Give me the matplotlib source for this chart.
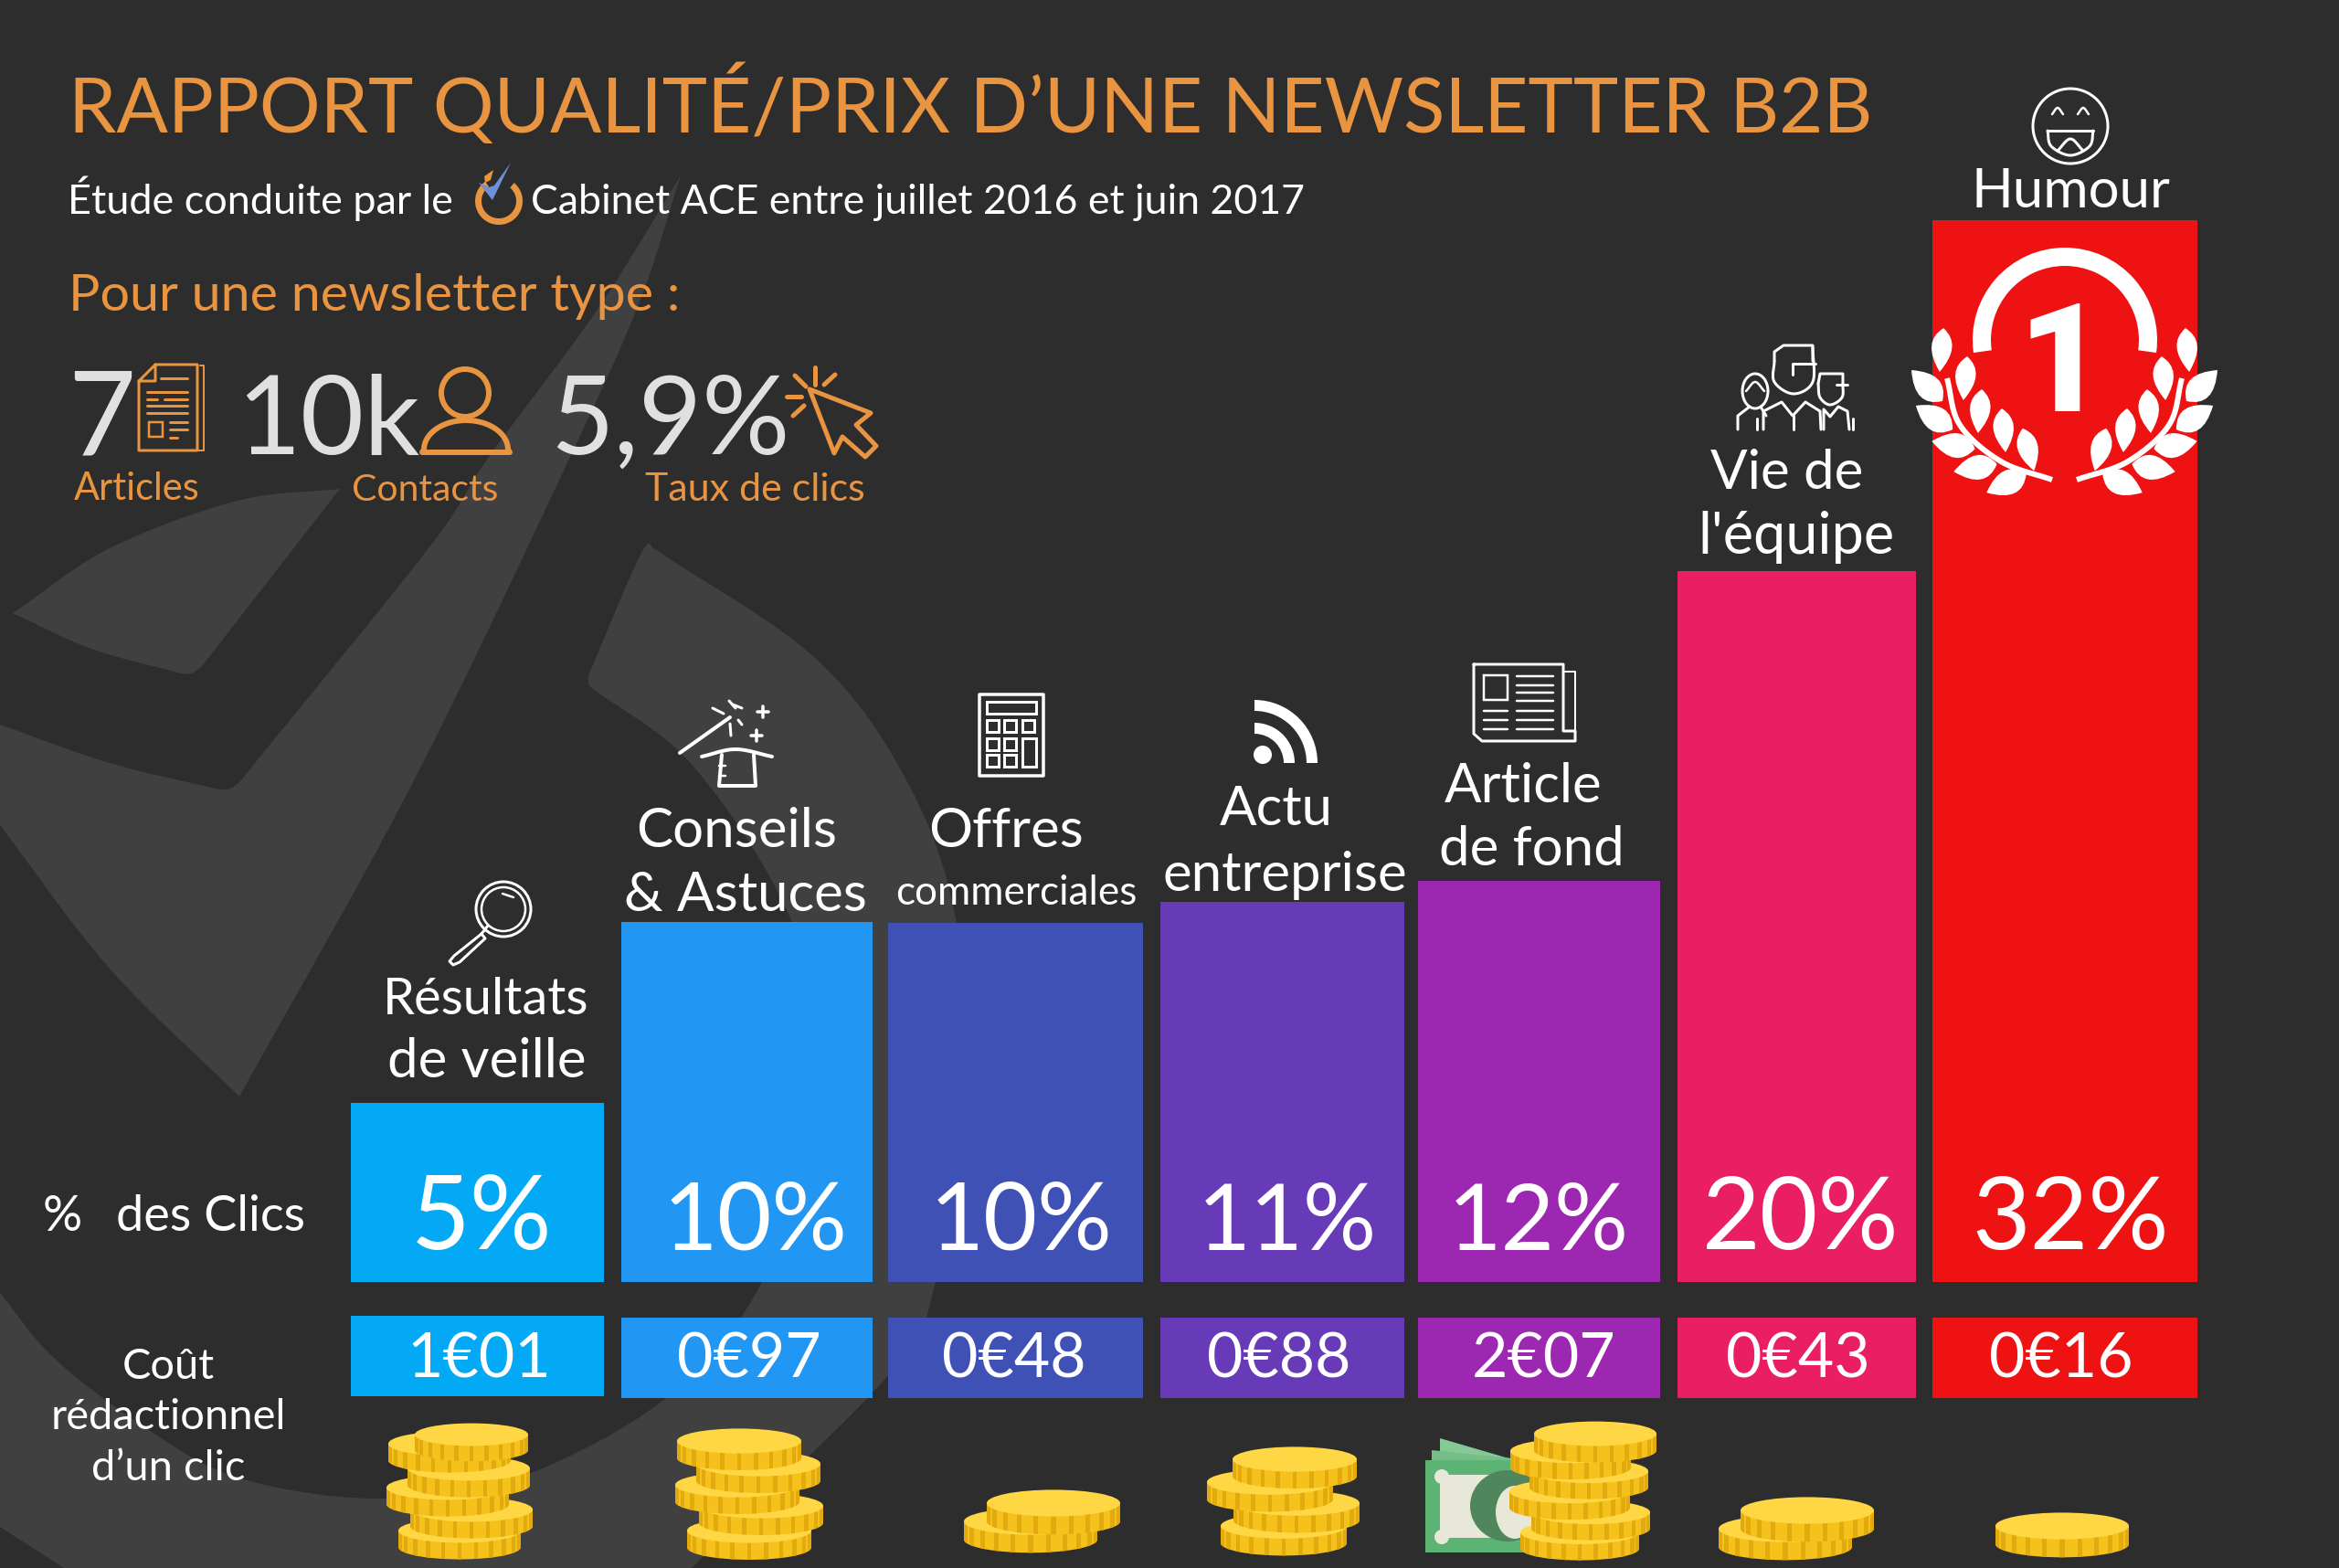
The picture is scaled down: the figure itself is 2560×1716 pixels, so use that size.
"""Rapport qualité/prix d'une newsletter B2B, infographic redrawn with matplotlib."""

import matplotlib
matplotlib.use("Agg")
import matplotlib.pyplot as plt
import numpy as np
from matplotlib.patches import Circle, Ellipse, PathPatch, Polygon, Rectangle, Wedge
from matplotlib.path import Path

# data
categories = [
    "Résultats\nde veille", "Conseils\n& Astuces", "Offres\ncommerciales", "Actu\nentreprise",
    "Article\nde fond", "Vie de\nl'équipe", "Humour",
]
click_labels = ["5%", "10%", "10%", "11%", "12%", "20%", "32%"]
bar_levels = [4.99, 10.03, 10.0, 10.59, 11.17, 19.8, 29.57]  # drawn heights differ a bit from labels
cost_labels = ["1€01", "0€97", "0€48", "0€88", "2€07", "0€43", "0€16"]
coin_counts = [6, 5, 2, 4, 6, 2, 1]
bar_colors = ["#03a9f4", "#2196f3", "#3f51b5", "#673ab7", "#9c27b0", "#e91e63", "#ee1212"]

# layout, in pixels of the 2560x1716 canvas
W, H = 2560, 1716
BAR_BOTTOM = 1403
PX_PER_LEVEL = 39.3
BAR_LEFT = [384, 680, 972, 1270, 1552, 1836, 2115]
BAR_RIGHT = [661, 955, 1251, 1537, 1817, 2097, 2405]
COST_TOP = [1440, 1442, 1442, 1442, 1442, 1442, 1442]
COST_BOTTOM = [1528, 1530, 1530, 1530, 1530, 1530, 1530]
PCT_X = [527, 827, 1118, 1409, 1684, 1971, 2266]
PCT_SIZE = [112, 103, 102, 100, 101, 110, 110]
COST_X = [524, 820, 1110, 1400, 1690, 1968, 2256]
COIN_STACKS = [
    [(503, 1675, 67), (516, 1652, 67), (490, 1628, 67), (513, 1607, 67), (492, 1580, 67), (516, 1570, 62)],
    [(820, 1675, 68), (833, 1648, 68), (807, 1625, 68), (830, 1602, 68), (809, 1577, 68)],
    [(1128, 1665, 73), (1153, 1645, 73)],
    [(1405, 1670, 69), (1419, 1645, 69), (1390, 1622, 69), (1417, 1597, 68)],
    [(1729, 1677, 65), (1741, 1655, 65), (1718, 1632, 66), (1739, 1610, 65), (1719, 1588, 66), (1746, 1569, 67)],
    [(1954, 1673, 73), (1978, 1653, 73)],
    [(2257, 1670, 73)],
]
CATEGORY_TEXT = [
    [(532, 1110, "Résultats", 56), (533, 1179, "de veille", 60)],
    [(806, 927, "Conseils", 60), (816, 997, "& Astuces", 60)],
    [(1101, 927, "Offres", 60), (1112, 990, "commerciales", 44)],
    [(1397, 903, "Actu", 60), (1406, 975, "entreprise", 60)],
    [(1667, 878, "Article", 60), (1676, 947, "de fond", 60)],
    [(1956, 535, "Vie de", 60), (1966, 606, "l'équipe", 63)],
    [(2266, 227, "Humour", 60)],
]

BG = "#2d2d2d"
WATERMARK = "#404040"
ORANGE = "#e89440"
LIGHT = "#e0e0e0"
WHITE = "#ffffff"
FONT = ["Lato", "DejaVu Sans"]
PT = 72 / 200  # one canvas pixel, in points


def catmull(points, steps=16):
    """Dense smooth run through the given points."""
    p = np.array(points, float)
    p = np.vstack([2 * p[0] - p[1], p, 2 * p[-1] - p[-2]])
    out = []
    for i in range(1, len(p) - 2):
        t = np.linspace(0, 1, steps, endpoint=False)[:, None]
        out.append(0.5 * (2 * p[i] + (p[i + 1] - p[i - 1]) * t
                          + (2 * p[i - 1] - 5 * p[i] + 4 * p[i + 1] - p[i + 2]) * t ** 2
                          + (3 * p[i] - p[i - 1] - 3 * p[i + 1] + p[i + 2]) * t ** 3))
    out.append(p[-2:-1])
    return np.vstack(out)


def label(ax, x, y, text, size, color=WHITE, ha="center", **kw):
    ax.text(x, y, text, fontsize=size * PT, color=color, ha=ha, va="baseline", family=FONT, **kw)


def line(ax, pts, lw=3, color=WHITE, **kw):
    xs, ys = zip(*pts)
    ax.plot(xs, ys, color=color, lw=lw * PT, solid_capstyle=kw.pop("cap", "round"), **kw)


def box(ax, x0, y0, x1, y1, lw=3, color=WHITE):
    ax.add_patch(Rectangle((x0, y0), x1 - x0, y1 - y0, fill=False, ec=color, lw=lw * PT))


def draw_watermark(ax):
    ax.add_patch(Polygon(np.vstack([
        catmull([(14, 671), (120, 600), (260, 548), (372, 535)]),
        [(221, 729)],
        catmull([(221, 729), (210, 737), (198, 737)]),
        catmull([(198, 737), (100, 710), (14, 671)]),
    ]), fc=WATERMARK, ec="none"))
    ax.add_patch(Polygon(np.vstack([
        catmull([(0, 793), (120, 835), (240, 864)]),
        catmull([(240, 864), (252, 863), (262, 856)]),
        catmull([(262, 856), (469, 600), (535, 500), (653, 340), (745, 192)]),
        catmull([(745, 192), (700, 330), (624, 500), (450, 860), (262, 1200)]),
        catmull([(262, 1200), (120, 1060), (0, 903)]),
    ]), fc=WATERMARK, ec="none"))
    ax.add_patch(Polygon(np.vstack([
        catmull([(644, 740), (650, 725), (702, 605), (717, 601)]),
        catmull([(717, 601), (892, 720), (990, 850), (1045, 1000), (1060, 1200), (1024, 1403), (974, 1503), (757, 1716)]),
        [(70, 1716), (0, 1671)],
        catmull([(0, 1415), (60, 1487), (160, 1563), (260, 1617), (410, 1640), (560, 1620), (729, 1530), (834, 1403),
                 (907, 1198), (868, 1012), (760, 840), (644, 750)]),
    ]), fc=WATERMARK, ec="none"))


def draw_coin(ax, cx, cy, a):
    b, side = 0.2 * a, 0.27 * a
    t = np.linspace(0, np.pi, 50)
    lower = np.column_stack([cx + a * np.cos(t), cy + side + b * np.sin(t)])
    outline = np.vstack([[(cx + a, cy)], lower, [(cx - a, cy)]])
    body = Polygon(outline, fc="#f5c21b", ec="none")
    ax.add_patch(body)
    for phase in np.linspace(-1.35, 1.35, 11):
        x = cx + a * np.sin(phase)
        stripe = Rectangle((x - a * 0.035, cy), a * 0.07, side + b + 2, fc="#e3aa10", ec="none")
        ax.add_patch(stripe)
        stripe.set_clip_path(body)
    ax.add_patch(Ellipse((cx, cy), 2 * a, 2 * b, fc="#ffd644", ec="none"))


def draw_banknote(ax):
    ax.add_patch(Polygon([(1576, 1574), (1665, 1600), (1576, 1600)], fc="#85c996", ec="none"))
    ax.add_patch(Polygon([(1567, 1587), (1665, 1597), (1665, 1605), (1567, 1605)], fc="#76bd8a", ec="none"))
    ax.add_patch(Rectangle((1560, 1598), 125, 101, fc="#5bb374", ec="none"))
    ax.add_patch(Rectangle((1576, 1614), 100, 69, fc="#e8e8d8", ec="none"))
    ax.add_patch(Ellipse((1578, 1616), 16, 16, fc="#e8e8d8", ec="none"))
    ax.add_patch(Ellipse((1578, 1682), 16, 16, fc="#e8e8d8", ec="none"))
    ax.add_patch(Ellipse((1650, 1648), 82, 78, fc="#50865c", ec="none"))
    ax.add_patch(Ellipse((1658, 1655), 42, 58, fc="#e8e8d8", ec="none"))


def draw_doc_icon(ax):
    line(ax, [(170, 399), (216, 399), (216, 493), (152, 493), (152, 417), (170, 399), (170, 417), (152, 417)], 3, ORANGE)
    line(ax, [(219, 400), (223, 400), (223, 493), (217, 493)], 2, ORANGE)
    line(ax, [(176, 414), (205, 414)], 3, ORANGE)
    for y in (429, 444, 452):
        line(ax, [(161, y), (205, y)], 3, ORANGE)
    line(ax, [(161, 437), (172, 437)], 3, ORANGE)
    line(ax, [(180, 437), (205, 437)], 3, ORANGE)
    box(ax, 163, 462, 178, 478, 2.5, ORANGE)
    for y in (462, 470):
        line(ax, [(186, y), (205, y)], 3, ORANGE)
    line(ax, [(186, 479), (194, 479)], 3, ORANGE)


def draw_person_icon(ax):
    ax.add_patch(Ellipse((509, 430), 52, 52, fill=False, ec=ORANGE, lw=6 * PT))
    t = np.linspace(np.pi, 2 * np.pi, 30)
    dome = np.column_stack([510 + 46 * np.cos(t), 492 + 32 * np.sin(t)])
    ax.add_patch(Polygon(np.vstack([dome, [(558, 495), (462, 495)]]), fill=False, ec=ORANGE, lw=6 * PT, joinstyle="round"))


def draw_cursor_icon(ax):
    ax.add_patch(Polygon([(886, 426), (953, 452), (937, 465), (959, 488), (947, 500), (922, 478), (913, 496)],
                         fill=False, ec=ORANGE, lw=5 * PT, joinstyle="round"))
    for seg in ([(861, 434), (877, 434)], [(870, 411), (882, 423)], [(892, 402), (892, 421)],
                [(914, 410), (902, 421)], [(880, 444), (868, 455)]):
        line(ax, seg, 5, ORANGE)


def draw_logo(ax):
    ax.add_patch(Wedge((546, 220), 26, -50, 235, width=7, fc=ORANGE, ec="none"))
    ax.add_patch(Polygon([(559, 178), (539, 219), (524, 200), (535, 205), (541, 203)], fc="#6f8fd8", ec="none"))
    ax.add_patch(Polygon([(530, 193), (540, 186), (537, 197), (531, 200)], fc=ORANGE, ec="none"))


def draw_magnifier(ax):
    ax.add_patch(Circle((551, 995), 30, fill=False, ec=WHITE, lw=3 * PT))
    ax.add_patch(Circle((551, 995), 24, fill=False, ec=WHITE, lw=2.5 * PT))
    line(ax, [(534, 1013), (527, 1022)], 3)
    line(ax, [(527, 1022), (497, 1046), (492, 1052), (496, 1056), (503, 1053), (531, 1027), (527, 1022)], 3)
    line(ax, [(550, 978), (562, 982)], 2.5)


def draw_wand_hat(ax):
    line(ax, [(744, 824), (799, 785)], 4)
    for seg in ([(780, 775), (792, 781)], [(802, 771), (812, 775)], [(798, 767), (805, 775)],
                [(808, 788), (812, 793)], [(799, 792), (800, 805)]):
        line(ax, seg, 3)
    for cx, cy in ((835, 779), (828, 805)):
        line(ax, [(cx - 6, cy), (cx + 6, cy)], 3.5)
        line(ax, [(cx, cy - 6), (cx, cy + 6)], 3.5)
    line(ax, catmull([(768, 828), (805, 820), (845, 828)]), 4)
    line(ax, [(790, 826), (787, 860), (827, 860), (825, 826)], 4)
    line(ax, [(787, 838), (794, 838)], 2.5)
    line(ax, [(787, 849), (794, 849)], 2.5)


def draw_calculator(ax):
    ax.add_patch(Rectangle((1072, 760), 70, 89, fill=False, ec=WHITE, lw=3.5 * PT, joinstyle="round"))
    box(ax, 1080, 768, 1134, 781, 3)
    for col, x in enumerate((1080, 1099, 1119)):
        for y in (788, 808, 826):
            if col == 2 and y > 790:
                continue
            box(ax, x, y, x + 13, y + 13, 3)
    box(ax, 1119, 808, 1134, 839, 3)


def draw_rss(ax):
    ax.add_patch(Circle((1382, 826), 10, fc=WHITE, ec="none"))
    ax.add_patch(Wedge((1373, 835), 69, 270, 360, width=12, fc=WHITE, ec="none"))
    ax.add_patch(Wedge((1373, 835), 44, 270, 360, width=12, fc=WHITE, ec="none"))


def draw_newspaper(ax):
    line(ax, [(1613, 727), (1711, 727), (1711, 800), (1724, 800), (1724, 811), (1622, 811), (1613, 803), (1613, 727)], 3)
    line(ax, [(1711, 727), (1711, 735), (1724, 735), (1724, 800)], 2)
    box(ax, 1624, 739, 1650, 766, 2.5)
    for y in (740, 750, 758, 767):
        line(ax, [(1660, y), (1700, y)], 2.5)
    for y in (778, 788, 798):
        line(ax, [(1624, y), (1650, y)], 2.5)
        line(ax, [(1660, y), (1700, y)], 2.5)


def draw_team(ax):
    # middle figure
    line(ax, catmull([(1942, 395), (1942, 418), (1963, 431), (1984, 418), (1984, 380)]), 3)
    line(ax, [(1942, 395), (1942, 385), (1952, 378), (1984, 378), (1984, 395)], 3)
    line(ax, [(1962, 410), (1962, 398), (1987, 398)], 3)
    line(ax, [(1930, 470), (1930, 450), (1950, 440), (1962, 455), (1976, 440), (1992, 450), (1993, 470)], 3)
    line(ax, [(1963, 455), (1963, 470)], 3)
    # left figure
    ax.add_patch(Ellipse((1921, 428), 28, 38, fill=False, ec=WHITE, lw=3 * PT))
    line(ax, catmull([(1911, 428), (1921, 418), (1931, 428)]), 2.5)
    line(ax, [(1902, 470), (1902, 455), (1915, 445)], 3)
    line(ax, [(1927, 445), (1933, 455)], 3)
    line(ax, [(1923, 458), (1923, 470)], 3)
    # right figure
    line(ax, catmull([(1990, 420), (1992, 435), (2003, 443), (2016, 435), (2017, 420)]), 3)
    line(ax, [(1990, 420), (1992, 409), (2017, 409), (2017, 420)], 3)
    line(ax, [(2010, 421), (2022, 421)], 3)
    line(ax, [(1996, 470), (1996, 448), (2003, 456), (2012, 445), (2022, 450), (2024, 470)], 3)
    line(ax, [(2028, 458), (2028, 470)], 3)


def draw_smiley(ax):
    ax.add_patch(Circle((2266, 138), 41, fill=False, ec=WHITE, lw=3 * PT))
    line(ax, catmull([(2246, 125), (2252, 118), (2258, 125)]), 2.5)
    line(ax, catmull([(2274, 125), (2280, 118), (2286, 125)]), 2.5)
    line(ax, catmull([(2241, 143), (2245, 160), (2266, 170), (2287, 160), (2291, 143)]), 3)
    line(ax, [(2241, 143), (2291, 143)], 3)
    line(ax, catmull([(2252, 165), (2266, 152), (2280, 165)]), 3)


def leaf(ax, cx, cy, length, width, angle):
    """Pointed leaf centred on (cx, cy), angle in canvas degrees."""
    a = np.radians(angle)
    d = np.array([np.cos(a), np.sin(a)]) * length / 2
    n = np.array([-np.sin(a), np.cos(a)]) * width
    c = np.array([cx, cy])
    codes = [Path.MOVETO, Path.CURVE3, Path.CURVE3, Path.CURVE3, Path.CURVE3]
    verts = [c - d, c - d * 0.3 + n * 0.9, c + d, c - d * 0.3 - n * 0.9, c - d]
    ax.add_patch(PathPatch(Path(verts, codes), fc=WHITE, ec="none"))


def draw_wreath(ax):
    ax.add_patch(Wedge((2260, 372), 101, 172, 368, width=20, fc=WHITE, ec="none"))
    axis = 2259.5
    inner = [(2125, 383, 95), (2151, 414, 95), (2167, 450, 95), (2193, 471, 85), (2220, 492, 75)]
    outer = [(2109, 422, 225), (2117, 457, 213), (2138, 487, 190), (2162, 512, 170), (2196, 529, 155)]
    for cx, cy, ang in inner:
        leaf(ax, cx, cy, 48, 25, ang)
        leaf(ax, 2 * axis - cx, cy, 48, 25, 180 - ang)
    for cx, cy, ang in outer:
        leaf(ax, cx, cy, 48, 30, ang)
        leaf(ax, 2 * axis - cx, cy, 48, 30, 180 - ang)
    run = catmull([(2131, 414), (2145, 465), (2190, 505), (2246, 525)])
    line(ax, run, 6, cap="butt")
    line(ax, np.column_stack([2 * axis - run[:, 0], run[:, 1]]), 6, cap="butt")
    ax.text(2256, 450, "1", fontsize=165 * PT, color=WHITE, ha="center", va="baseline",
            family="Roboto", fontweight="black")


fig = plt.figure(figsize=(W / 200, H / 200), dpi=200, facecolor=BG)

bg_ax = fig.add_axes([0, 0, 1, 1], zorder=0)
bg_ax.set_xlim(0, W)
bg_ax.set_ylim(H, 0)
bg_ax.axis("off")
draw_watermark(bg_ax)

bars_ax = fig.add_axes([0, 1 - BAR_BOTTOM / H, 1, BAR_BOTTOM / H], zorder=1)
bars_ax.set_xlim(0, W)
bars_ax.set_ylim(0, BAR_BOTTOM / PX_PER_LEVEL)
bars_ax.axis("off")
lefts = np.array(BAR_LEFT)
widths = np.array(BAR_RIGHT) - lefts
bars_ax.bar(lefts, bar_levels, width=widths, align="edge", color=bar_colors, linewidth=0)

ax = fig.add_axes([0, 0, 1, 1], zorder=2)
ax.set_xlim(0, W)
ax.set_ylim(H, 0)
ax.axis("off")

# header
label(ax, 75, 145, "RAPPORT QUALITÉ/PRIX D’UNE NEWSLETTER B2B", 83.5, ORANGE, ha="left")
label(ax, 74, 234, "Étude conduite par le", 45, ha="left")
label(ax, 581, 234, "Cabinet ACE entre juillet 2016 et juin 2017", 44.7, ha="left")
draw_logo(ax)
label(ax, 75, 340, "Pour une newsletter type :", 57.5, ORANGE, ha="left")
label(ax, 74, 497, "7", 128, LIGHT, ha="left")
label(ax, 259, 497, "10k", 120, LIGHT, ha="left")
label(ax, 602, 497, "5,9%", 120, LIGHT, ha="left")
label(ax, 150, 547, "Articles", 41.5, ORANGE)
label(ax, 465, 548, "Contacts", 41, ORANGE)
label(ax, 826, 548, "Taux de clics", 43, ORANGE)
draw_doc_icon(ax)
draw_person_icon(ax)
draw_cursor_icon(ax)

# row titles
label(ax, 47, 1347, "%", 54, ha="left")
label(ax, 127, 1347, "des Clics", 54, ha="left")
label(ax, 184, 1509, "Coût", 47)
label(ax, 184, 1564, "rédactionnel", 47)
label(ax, 184, 1620, "d’un clic", 47)

# columns
for rows in CATEGORY_TEXT:
    for x, y, text, size in rows:
        label(ax, x, y, text, size)
for x, pct, size in zip(PCT_X, click_labels, PCT_SIZE):
    label(ax, x, 1367, pct, size)
for i, cost in enumerate(cost_labels):
    ax.add_patch(Rectangle((BAR_LEFT[i], COST_TOP[i]), BAR_RIGHT[i] - BAR_LEFT[i], COST_BOTTOM[i] - COST_TOP[i],
                           fc=bar_colors[i], ec="none"))
    label(ax, COST_X[i], 1508, cost, 68)

# icons above the bars
draw_magnifier(ax)
draw_wand_hat(ax)
draw_calculator(ax)
draw_rss(ax)
draw_newspaper(ax)
draw_team(ax)
draw_smiley(ax)
draw_wreath(ax)

# coins
draw_banknote(ax)
for stack, count in zip(COIN_STACKS, coin_counts):
    for cx, cy, a in stack[:count]:
        draw_coin(ax, cx, cy, a)

fig.savefig("out.png", dpi=200, facecolor=BG)
plt.close(fig)
